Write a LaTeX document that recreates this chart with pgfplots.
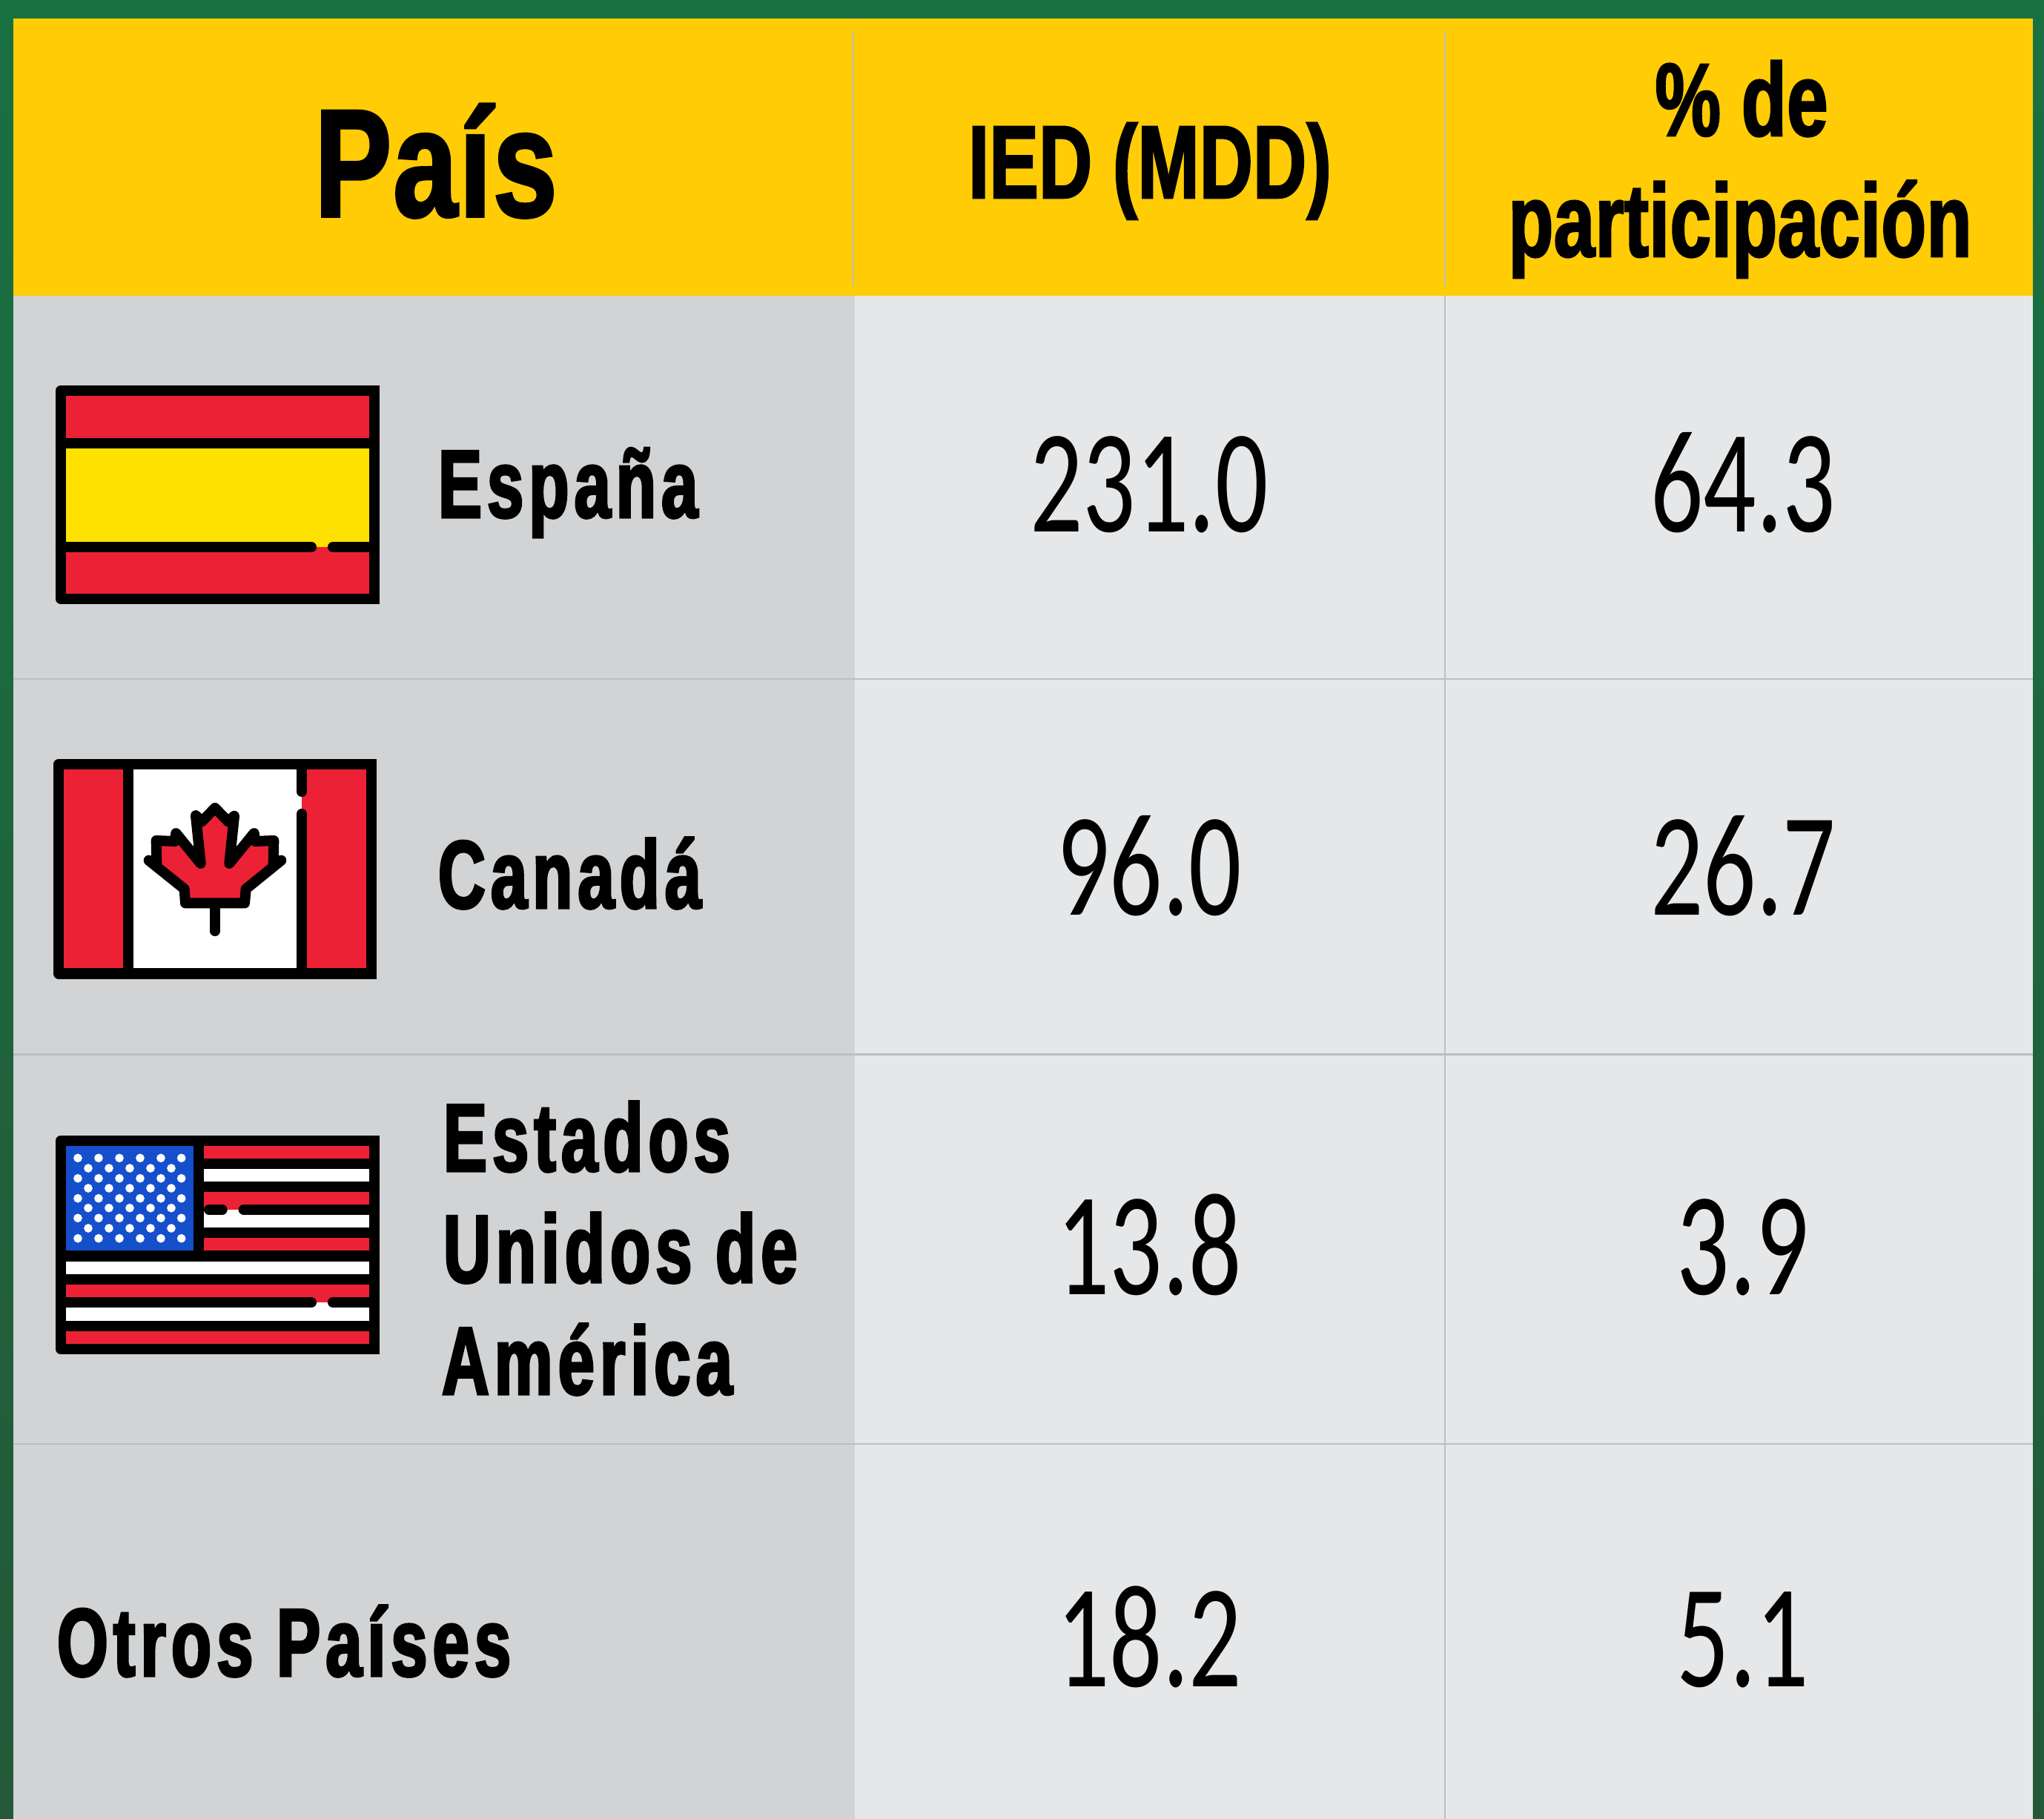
\documentclass[border=0pt]{standalone}
\usepackage{fontspec}
\usepackage{pgfplots}
\pgfplotsset{compat=1.18}
\newfontfamily\paisfont[FakeStretch=0.75,FakeBold=1.8,LetterSpace=1.2]{Liberation Sans Bold}
\newfontfamily\headfont[FakeStretch=0.71,FakeBold=1.8,LetterSpace=0.4]{Liberation Sans Bold}
\newfontfamily\namefont[FakeStretch=0.68,FakeBold=2.5,LetterSpace=5.5]{Liberation Sans Bold}
\newfontfamily\numfont[FakeStretch=0.71]{Carlito}
\definecolor{framegreen}{HTML}{187143}
\definecolor{framedark}{HTML}{245838}
\definecolor{headyellow}{HTML}{FFCC05}
\definecolor{leftgrey}{HTML}{D1D3D4}
\definecolor{cellgrey}{HTML}{E6E7E8}
\definecolor{rulegrey}{HTML}{BCBEC0}
\definecolor{flagred}{HTML}{ED2136}
\definecolor{flagyellow}{HTML}{FFE100}
\definecolor{flagblue}{HTML}{164FCB}
% filled box in picture pixels: colour, x0, y0, x1, y1
\newcommand{\panel}[5]{\addplot[fill=#1,draw=none] coordinates {(#2,#3)(#4,#3)(#4,#5)(#2,#5)} --cycle;}
\newcommand{\rowline}[3]{\addplot[rulegrey,line width=0.7pt] coordinates {(#1,#3)(#2,#3)};}
\newcommand{\colline}[3]{\addplot[rulegrey,line width=0.7pt] coordinates {(#1,#2)(#1,#3)};}
\begin{document}
\begin{tikzpicture}
\begin{axis}[
  width=27.57cm, height=24.54cm, scale only axis,
  xmin=0, xmax=2757, ymin=0, ymax=2454, y dir=reverse,
  hide axis, clip=true,
  flagline/.style={black,line width=4pt,line cap=round,line join=round},
  txt/.style={only marks,mark=none,nodes near coords,point meta=explicit symbolic,
    nodes near coords style={font=#1,anchor=base,inner sep=0pt,outer sep=0pt,text=black}},
  txtl/.style={only marks,mark=none,nodes near coords,point meta=explicit symbolic,
    nodes near coords style={font=#1,anchor=base west,inner sep=0pt,outer sep=0pt,text=black}},
]
% frame, header and cells
\addplot[draw=none,top color=framegreen,bottom color=framedark] coordinates {(0,0)(2757,0)(2757,2454)(0,2454)} --cycle;
\panel{headyellow}{18}{25}{2742}{399}
\panel{leftgrey}{18}{399}{1153}{2454}
\panel{cellgrey}{1153}{399}{2742}{2454}
\rowline{18}{2742}{916}
\rowline{18}{2742}{1422.5}
\rowline{18}{2742}{1948}
\colline{1151}{42}{385}
\colline{1949}{42}{385}
\colline{1949}{399}{2454}

% Spain
\panel{flagred}{82}{527}{505}{598}
\panel{flagyellow}{82}{598}{505}{738}
\panel{flagred}{82}{738}{505}{808}
\addplot[flagline] coordinates {(82,598)(505,598)};
\addplot[flagline] coordinates {(82,738)(420,738)};
\addplot[flagline] coordinates {(449,738)(505,738)};
\addplot[flagline] coordinates {(82,527)(505,527)(505,808)(82,808)} --cycle;
\panel{black}{498}{520}{512}{815}

% Canada
\panel{flagred}{79}{1031}{173}{1313.5}
\panel{white}{173}{1031}{407}{1313.5}
\panel{flagred}{407}{1031}{501}{1313.5}
\addplot[flagline] coordinates {(173,1031)(173,1313.5)};
\addplot[flagline] coordinates {(407,1031)(407,1068)};
\addplot[flagline] coordinates {(407,1098)(407,1313.5)};
\addplot[flagline] coordinates {(79,1031)(501,1031)(501,1313.5)(79,1313.5)} --cycle;
\panel{black}{494}{1024}{508}{1320.5}
\addplot[flagline] coordinates {(290,1218.3)(290,1256)};
\addplot[flagline,fill=flagred] coordinates {
  (290,1090)(307.7,1108.3)(316,1100.7)(309.3,1165)(342.7,1124)(344,1135)
  (369.3,1134)(368.7,1165)(379.3,1160.7)(331.7,1199.3)(330,1218.3)
  (250,1218.3)(248.7,1199.3)(200.7,1160.7)(211.3,1165)(210.7,1134)
  (236,1135)(237.3,1124)(270.7,1165)(264,1100)(272.3,1108.3)} --cycle;

% USA
\panel{black}{82}{1539}{505}{1820}
\panel{flagblue}{89}{1545}{260.7}{1687}
\panel{flagred}{274.7}{1545.3}{498}{1562.7}
\panel{white}{274.7}{1577}{498}{1594}
\panel{flagred}{274.7}{1608.3}{498}{1632}
\panel{white}{274.7}{1632}{498}{1656}
\panel{flagred}{274.7}{1670.3}{498}{1687.3}
\panel{white}{89}{1701.7}{498}{1718.7}
\panel{flagred}{89}{1733}{498}{1757}
\panel{white}{89}{1757}{498}{1781.7}
\panel{flagred}{89}{1796}{498}{1813}
\addplot[flagline] coordinates {(282,1632)(299.7,1632)};
\addplot[flagline] coordinates {(328.7,1632)(498,1632)};
\addplot[flagline] coordinates {(89,1757)(420,1757)};
\addplot[flagline] coordinates {(449,1757)(498,1757)};
\addplot[flagline] coordinates {(82,1539)(505,1539)(505,1820)(82,1820)} --cycle;
\panel{black}{498}{1532}{512}{1827}
\addplot[only marks,mark=*,mark size=1.45pt,white,mark options={draw=white,fill=white}] coordinates {
  (105,1562.3)(133,1562.3)(161,1562.3)(189,1562.3)(217,1562.3)(244.7,1562.3)
  (119,1576)(147,1576)(175,1576)(203,1576)(231,1576)
  (105,1589.7)(133,1589.7)(161,1589.7)(189,1589.7)(217,1589.7)(244.7,1589.7)
  (119,1603)(147,1603)(175,1603)(203,1603)(231,1603)
  (105,1616.7)(133,1616.7)(161,1616.7)(189,1616.7)(217,1616.7)(244.7,1616.7)
  (119,1629.7)(147,1629.7)(175,1629.7)(203,1629.7)(231,1629.7)
  (105,1643.3)(133,1643.3)(161,1643.3)(189,1643.3)(217,1643.3)(244.7,1643.3)
  (119,1657)(147,1657)(175,1657)(203,1657)(231,1657)
  (105,1670.7)(133,1670.7)(161,1670.7)(189,1670.7)(217,1670.7)(244.7,1670.7)
};

% text
\addplot[txt={\fontsize{58.9}{60}\paisfont}] coordinates {(588,292)[País]};
\addplot[txt={\fontsize{39.8}{42}\headfont}] coordinates {
  (1551,267)[IED (MDD)]
  (2349,183)[\% de]
  (2347,346)[participación]
};
\addplot[txtl={\fontsize{37}{39}\namefont}] coordinates {
  (591,698)[España]
  (591,1225)[Canadá]
  (598,1580)[Estados]
  (598,1730)[Unidos de]
  (596,1881)[América]
  (77,2261)[Otros Países]
};
\addplot[txt={\fontsize{56.5}{60}\numfont}] coordinates {
  (1550,717)[231.0] (2351,717)[64.3]
  (1550,1234)[96.0] (2351,1234)[26.7]
  (1550,1746)[13.8] (2351,1746)[3.9]
  (1550,2275)[18.2] (2351,2275)[5.1]
};
\end{axis}
\end{tikzpicture}
\end{document}
